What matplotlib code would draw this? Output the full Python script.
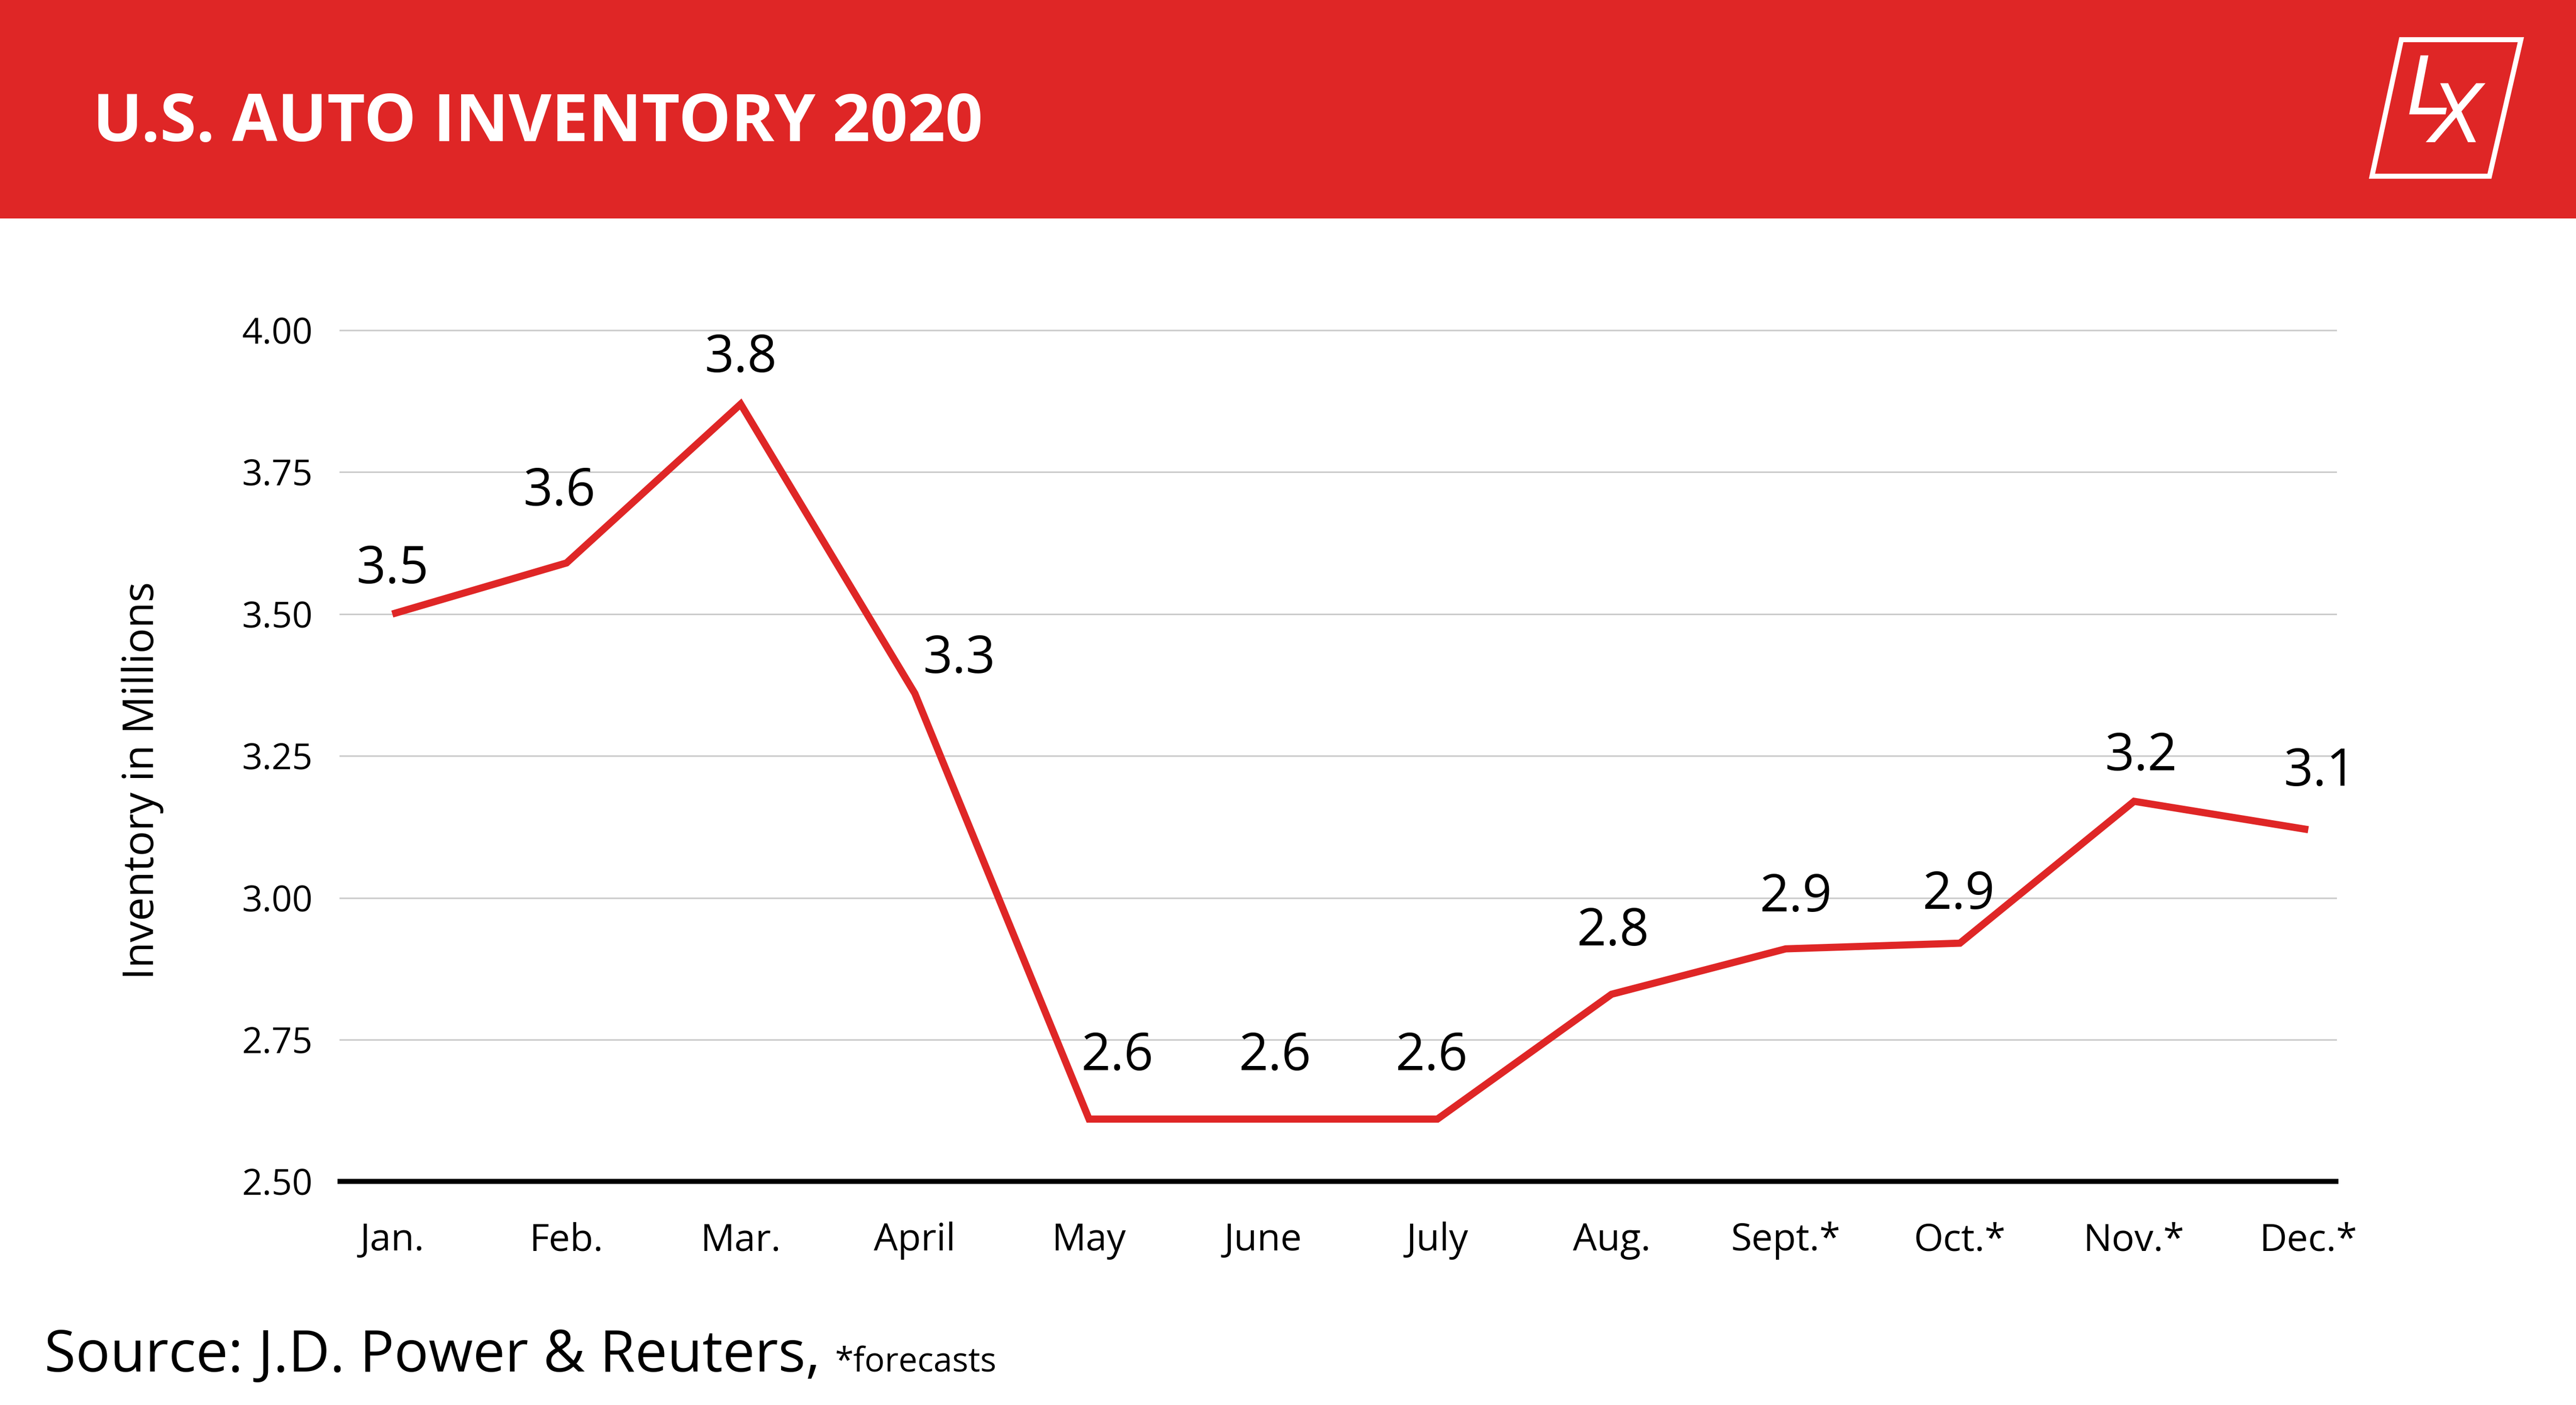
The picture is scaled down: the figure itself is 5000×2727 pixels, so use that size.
import numpy as np
import matplotlib
matplotlib.use("Agg")
from matplotlib import pyplot as plt
from matplotlib.patches import Rectangle, Polygon

# chart data
months = ["Jan.", "Feb.", "Mar.", "April", "May", "June", "July",
          "Aug.", "Sept.*", "Oct.*", "Nov.*", "Dec.*"]
inventory = [3.50, 3.59, 3.87, 3.36, 2.61, 2.61, 2.61,
             2.83, 2.91, 2.92, 3.17, 3.12]
value_labels = ["3.5", "3.6", "3.8", "3.3", "2.6", "2.6", "2.6",
                "2.8", "2.9", "2.9", "3.2", "3.1"]
y_ticks = [2.50, 2.75, 3.00, 3.25, 3.50, 3.75, 4.00]

title = "U.S. AUTO INVENTORY 2020"
y_title = "Inventory in Millions"
source = "Source: J.D. Power & Reuters,"
note = "*forecasts"

RED = "#DF2626"
FONT = ["Open Sans", "DejaVu Sans"]
plt.rcParams["font.family"] = FONT

# label nudges in points (dx, dy) relative to each point
nudges = [(0, 62), (-10, 99), (0, 64), (62, 48), (39, 87), (16, 87), (-8, 87),
          (2, 87), (14, 71), (-2, 67), (10, 62), (16, 80)]

W, H = 5000, 2727
fig = plt.figure(figsize=(W / 100, H / 100), dpi=100)
fig.patch.set_facecolor("white")

# red header band
fig.patches.append(Rectangle((0, 1 - 424 / H), 1, 424 / H, transform=fig.transFigure,
                             facecolor=RED, edgecolor="none", zorder=0))
fig.text(180 / W, 1 - 274 / H, title, color="white", fontsize=92,
         fontweight="bold", ha="left", va="baseline")

# logo: slanted frame with LX
frame = Polygon([(4661 / W, 1 - 77 / H), (4893 / W, 1 - 77 / H),
                 (4832 / W, 1 - 342 / H), (4604 / W, 1 - 342 / H)],
                closed=True, transform=fig.transFigure, fill=False,
                edgecolor="white", linewidth=7, joinstyle="miter", zorder=2)
fig.patches.append(frame)
fig.text(4715 / W, 1 - 178 / H, "L", color="white", fontsize=112, style="italic",
         family=["Liberation Sans Narrow", "DejaVu Sans"], ha="center", va="center")
fig.text(4768 / W, 1 - 233 / H, "X", color="white", fontsize=112, style="italic",
         family=["Liberation Sans Narrow", "DejaVu Sans"], ha="center", va="center")

# plot area
ax = fig.add_axes([207 / 1568, 1 - 719 / 855, (1422 - 207) / 1568, (719 - 201) / 855])
ax.set_facecolor("none")
x = np.arange(len(months))
ax.set_xlim(-0.30, len(months) - 1 + 0.16)
ax.set_ylim(y_ticks[0], y_ticks[-1])

for t in y_ticks[1:]:
    ax.axhline(t, color="#cccccc", linewidth=2.2, clip_on=False, zorder=1)
ax.axhline(y_ticks[0], color="black", linewidth=7, clip_on=False, zorder=3)

ax.plot(x, inventory, color=RED, linewidth=10, solid_joinstyle="miter",
        solid_capstyle="butt", zorder=4)

for xi, yi, lab, (dx, dy) in zip(x, inventory, value_labels, nudges):
    ax.annotate(lab, (xi, yi), xytext=(dx, dy), textcoords="offset points",
                ha="center", va="center", fontsize=72, color="black")

for s in ax.spines.values():
    s.set_visible(False)
ax.set_yticks(y_ticks)
ax.set_yticklabels([f"{t:.2f}" for t in y_ticks])
ax.set_xticks(x)
ax.set_xticklabels(months)
ax.tick_params(axis="y", length=0, pad=38, labelsize=50)
ax.tick_params(axis="x", length=0, pad=56, labelsize=53)

fig.text(277 / W, 1 - 1515 / H, y_title, rotation=90, fontsize=59,
         ha="center", va="center")

# source line
src = fig.text(86 / W, 1 - 2662 / H, source, fontsize=80, ha="left", va="baseline")
fig.canvas.draw()
bb = src.get_window_extent()
fig.text((bb.x1 + 28) / W, 1 - 2662 / H, note, fontsize=47, ha="left", va="baseline")

fig.savefig("out.png", dpi=100, facecolor="white")
